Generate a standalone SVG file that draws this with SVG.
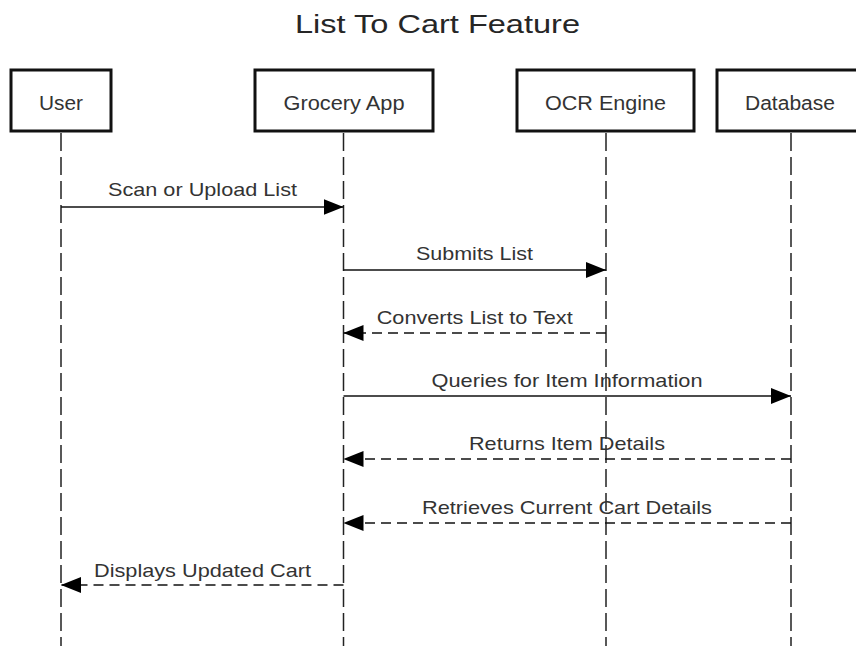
<svg xmlns="http://www.w3.org/2000/svg" width="856" height="646" viewBox="0 0 856 646">
<style>
.box{fill:#fff;stroke:#111;stroke-width:3}
.lbl{font-family:"Liberation Sans",Arial,sans-serif;font-size:20px;fill:#333;text-anchor:middle}
.msg{font-family:"Liberation Sans",Arial,sans-serif;font-size:19px;fill:#333;text-anchor:middle}
.title{font-family:"Liberation Sans",Arial,sans-serif;font-size:25px;fill:#262626;text-anchor:middle}
.life{stroke:#222;stroke-width:1.5;stroke-dasharray:18 6;fill:none}
.sync{stroke:#111;stroke-width:1.5;fill:none}
.ret{stroke:#111;stroke-width:1.5;stroke-dasharray:10 6;fill:none}
</style>
<defs>
<marker id="ah" viewBox="0 0 20 16" refX="20" refY="8" markerWidth="20" markerHeight="16" markerUnits="userSpaceOnUse" orient="auto">
<path d="M0,0 L20,8 L0,16 Z" fill="#000"/>
</marker>
</defs>
<rect width="856" height="646" fill="#fff"/>
<text class="title" x="437.5" y="33" textLength="285" lengthAdjust="spacingAndGlyphs">List To Cart Feature</text>
<g id="lifelines">
<line class="life" x1="61" y1="133" x2="61" y2="646"/>
<line class="life" x1="343.5" y1="133" x2="343.5" y2="646"/>
<line class="life" x1="606" y1="133" x2="606" y2="646"/>
<line class="life" x1="791" y1="133" x2="791" y2="646"/>
</g>
<g id="user"><rect class="box" x="11" y="70" width="100" height="61"/><text class="lbl" x="61" y="110" textLength="44" lengthAdjust="spacingAndGlyphs">User</text></g>
<g id="grocery"><rect class="box" x="255" y="70" width="178" height="61"/><text class="lbl" x="344" y="110" textLength="121" lengthAdjust="spacingAndGlyphs">Grocery App</text></g>
<g id="ocr"><rect class="box" x="517" y="70" width="177" height="61"/><text class="lbl" x="605.5" y="110" textLength="121" lengthAdjust="spacingAndGlyphs">OCR Engine</text></g>
<g id="database"><rect class="box" x="717" y="70" width="148" height="61"/><text class="lbl" x="790" y="110" textLength="90" lengthAdjust="spacingAndGlyphs">Database</text></g>
<g id="connectors">
<line class="sync" x1="61" y1="207" x2="343.5" y2="207" marker-end="url(#ah)"/>
<text class="msg" x="202.5" y="196" textLength="189" lengthAdjust="spacingAndGlyphs">Scan or Upload List</text>
<line class="sync" x1="343.5" y1="270" x2="606" y2="270" marker-end="url(#ah)"/>
<text class="msg" x="474.5" y="260" textLength="117" lengthAdjust="spacingAndGlyphs">Submits List</text>
<line class="ret" x1="606" y1="333" x2="343.5" y2="333" marker-end="url(#ah)"/>
<text class="msg" x="474.7" y="324" textLength="196" lengthAdjust="spacingAndGlyphs">Converts List to Text</text>
<line class="sync" x1="343.5" y1="396" x2="791" y2="396" marker-end="url(#ah)"/>
<text class="msg" x="567" y="387" textLength="271" lengthAdjust="spacingAndGlyphs">Queries for Item Information</text>
<line class="ret" x1="791" y1="459" x2="343.5" y2="459" marker-end="url(#ah)"/>
<text class="msg" x="567" y="450" textLength="196" lengthAdjust="spacingAndGlyphs">Returns Item Details</text>
<line class="ret" x1="791" y1="523" x2="343.5" y2="523" marker-end="url(#ah)"/>
<text class="msg" x="567" y="514" textLength="290" lengthAdjust="spacingAndGlyphs">Retrieves Current Cart Details</text>
<line class="ret" x1="343.5" y1="585" x2="61" y2="585" marker-end="url(#ah)"/>
<text class="msg" x="202.5" y="577" textLength="217" lengthAdjust="spacingAndGlyphs">Displays Updated Cart</text>
</g>
</svg>
